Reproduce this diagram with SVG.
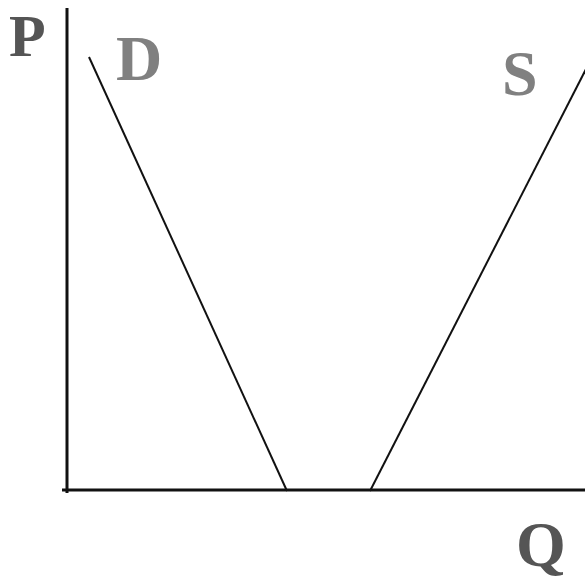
<svg xmlns="http://www.w3.org/2000/svg" width="585" height="586" viewBox="0 0 585 586">
<style>
.axis{stroke:#111;stroke-width:3;fill:none}
.curve{stroke:#111;stroke-width:2;fill:none}
.lbl{font-family:"Liberation Serif",serif;font-weight:bold;font-size:64px}
.dark{fill:#555}
.gray{fill:#808080}
</style>
<rect width="585" height="586" fill="#fff"/>
<g id="connectors">
<line class="axis" x1="67" y1="8" x2="67" y2="493"/>
<line class="axis" x1="62" y1="490" x2="585" y2="490"/>
<line id="demand" class="curve" x1="89" y1="57" x2="287" y2="491"/>
<line id="supply" class="curve" x1="370" y1="491" x2="586" y2="69"/>
</g>
<g id="label-P"><text class="lbl dark" x="9" y="56" style="font-size:60px">P</text></g>
<g id="label-D"><text class="lbl gray" x="116" y="80">D</text></g>
<g id="label-S"><text class="lbl gray" x="502" y="95">S</text></g>
<g id="label-Q"><text class="lbl dark" x="516" y="566">Q</text></g>
</svg>
